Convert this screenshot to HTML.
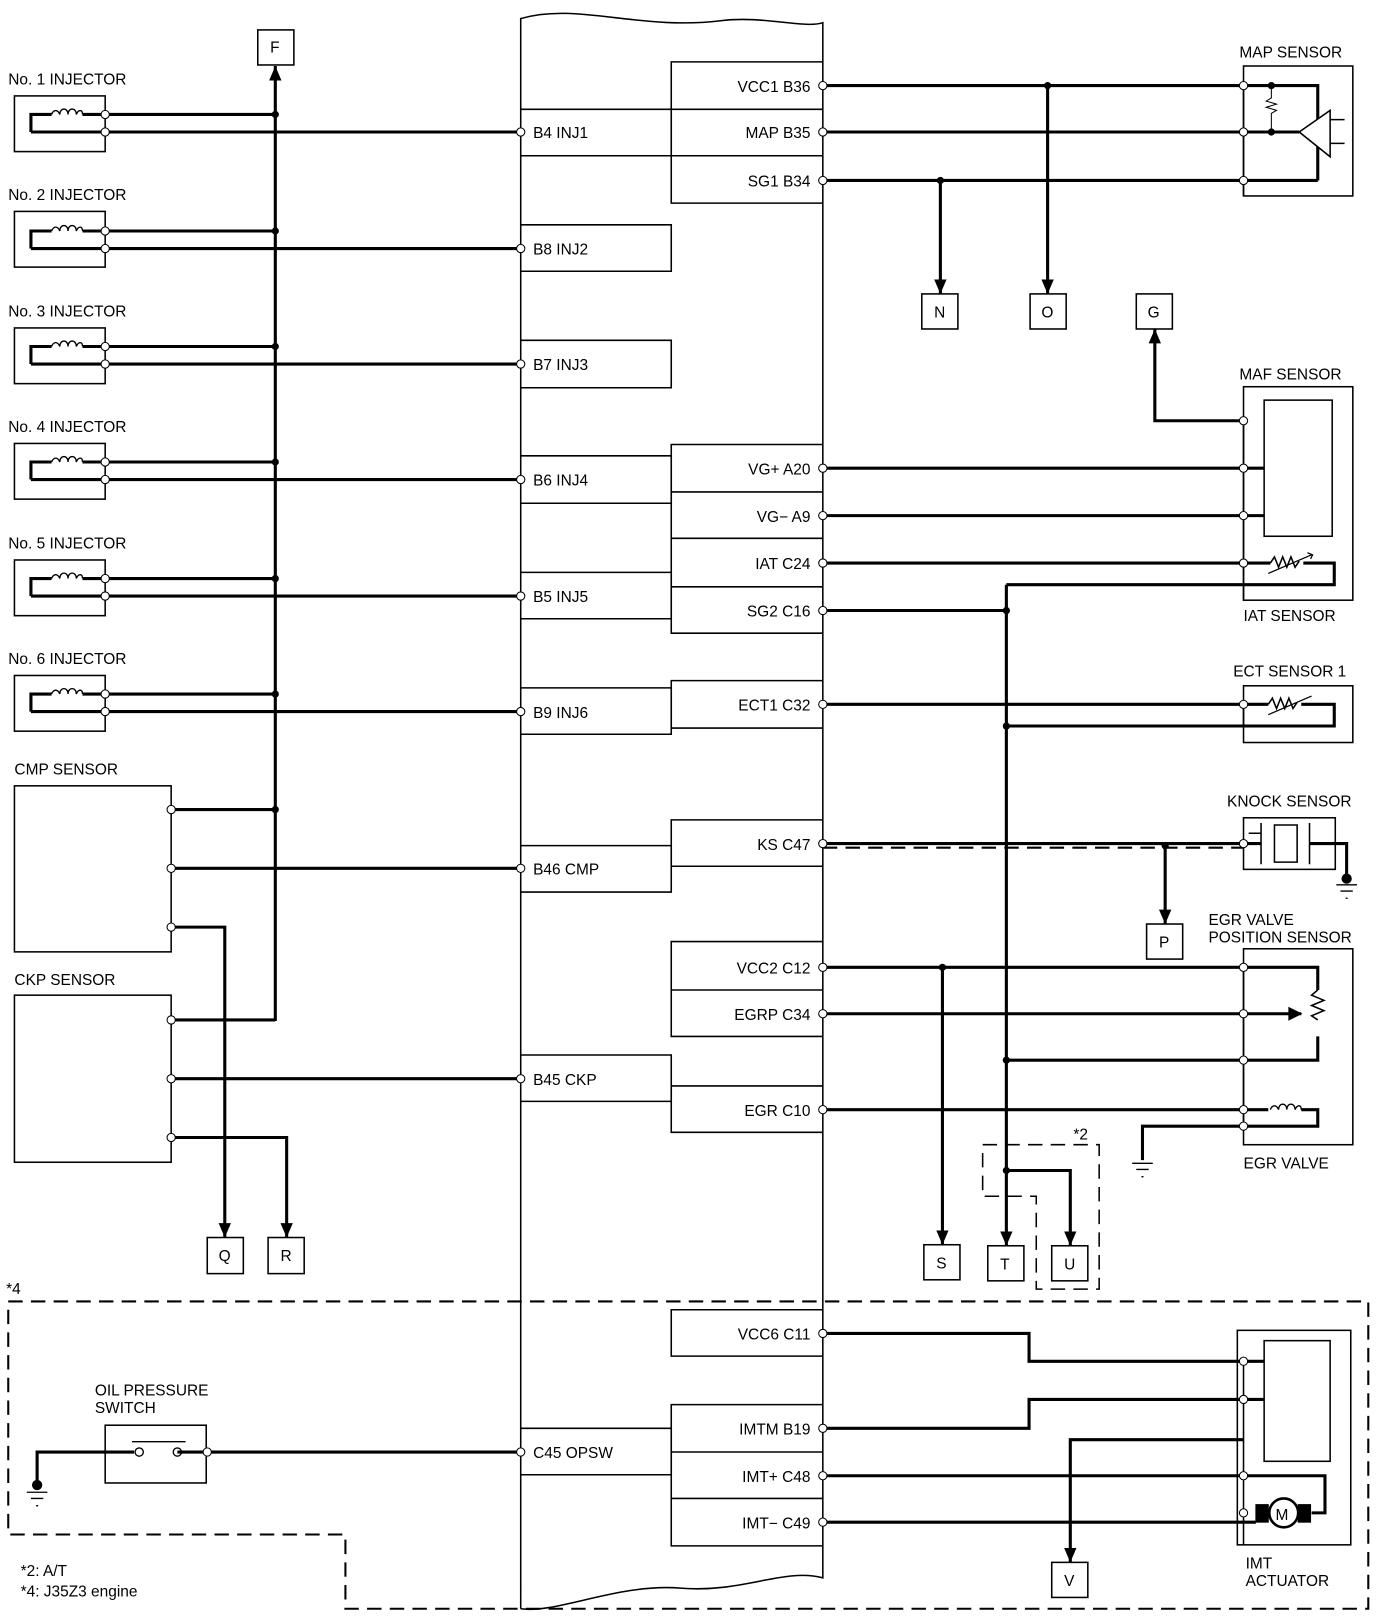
<!DOCTYPE html>
<html><head><meta charset="utf-8"><style>
html,body{margin:0;padding:0;background:#fff}
svg{display:block}
text{font-family:"Liberation Sans",Arial,sans-serif;font-size:15px;fill:#000}
</style></head><body>
<svg width="1392" height="1616" viewBox="0 0 1350 1567" preserveAspectRatio="none" xmlns="http://www.w3.org/2000/svg">
<defs>
<marker id="ar" markerWidth="14" markerHeight="12" refX="14" refY="6" orient="auto" markerUnits="userSpaceOnUse"><path d="M0,0 L14,6 L0,12 Z" fill="#000"/></marker>
</defs>
<g fill="none" stroke="#000" stroke-width="1.5">
<path d="M505,1560 L505,18 C560,2 620,30 700,20 C740,15 780,28 798,22 L798,1530 C760,1520 720,1545 660,1540 C600,1535 540,1565 505,1560"/>
<path d="M505,106H651V151H505 M505,218H651V263H505 M505,330H651V376H505 M505,442H651V488H505 M505,555H651V600H505 M505,667H651V712H505 M505,820H651V865H505 M505,1023H651V1068H505 M505,1385H651V1430H505"/>
<path d="M798,60H651V197H798 M651,106H798 M651,151H798
M798,431H651V614H798 M651,477H798 M651,522H798 M651,569H798
M798,660H651V706H798 M798,795H651V840H798 M798,913H651V1005H798 M651,960H798
M798,1053H651V1098H798 M798,1270H651V1315H798 M798,1362H651V1499H798 M651,1408H798 M651,1453H798"/>
<rect x="14" y="93" width="88" height="54"/><rect x="14" y="205" width="88" height="54"/><rect x="14" y="318" width="88" height="54"/>
<rect x="14" y="430" width="88" height="54"/><rect x="14" y="543" width="88" height="54"/><rect x="14" y="655" width="88" height="54"/>
<rect x="14" y="762" width="152" height="161"/><rect x="14" y="965" width="152" height="162"/>
<rect x="1206" y="64" width="106" height="126"/>
<rect x="1206" y="375" width="106" height="207"/><rect x="1226" y="388" width="66" height="132"/>
<rect x="1206" y="665" width="106" height="55"/>
<rect x="1206" y="793" width="89" height="50"/>
<rect x="1206" y="920" width="106" height="190"/>
<rect x="1200" y="1290" width="110" height="208"/><rect x="1226" y="1300" width="64" height="117"/>
<rect x="102" y="1382" width="98" height="56"/>
<rect x="250" y="29" width="35" height="34"/><rect x="894" y="285" width="35" height="34"/><rect x="999" y="285" width="35" height="34"/><rect x="1102" y="285" width="35" height="34"/>
<rect x="1112" y="896" width="35" height="34"/><rect x="201" y="1200" width="35" height="35"/><rect x="260" y="1200" width="35" height="35"/>
<rect x="896" y="1207" width="35" height="34"/><rect x="958" y="1208" width="35" height="34"/><rect x="1020" y="1208" width="35" height="34"/><rect x="1020" y="1515" width="35" height="34"/>
<path d="M1206,83V190 M1206,408V582 M1206,683V704 M1206,938V1095 M1206,1320V1476 M1206,1476V1498"/>
<path d="M1290,116H1304 M1290,139H1304"/>
<path d="M1211,808H1223 M1223,798V838 M1236,800H1258V836H1236Z M1270,798V838"/>
<path d="M1233,83V95 l-5,3 l10,3 l-10,3 l10,3 l-5,3 V128" stroke-width="1"/>
<path d="M1278,960 l-6,5 l12,5 l-12,5 l12,5 l-12,5 l6,4" stroke-width="1.5"/>
<path d="M1232,546 l4,-6 l4,10 l4,-10 l4,10 l4,-10 l4,10 l4,-6" stroke-width="1.5"/>
<path d="M1230,683 l4,-6 l4,10 l4,-10 l4,10 l4,-10 l4,10 l4,-6" stroke-width="1.5"/>
<path d="M1230,556L1272,538 M1230,693L1272,675 M1268,536l5,2l-2,4" stroke-width="1.2"/>
</g>
<g fill="none" stroke="#000" stroke-width="3">
<path d="M267,990V64" marker-end="url(#ar)"/>
<path d="M30,128V111H50 M80,111H267 M30,128H505
M30,241V224H50 M80,224H267 M30,241H505
M30,353V336H50 M80,336H267 M30,353H505
M30,465V448H50 M80,448H267 M30,465H505
M30,578V561H50 M80,561H267 M30,578H505
M30,690V673H50 M80,673H267 M30,690H505
M166,785H267 M166,842H505 M166,989H267 M166,1046H505"/>
<path d="M166,899H218V1200" marker-end="url(#ar)"/>
<path d="M166,1103H278V1200" marker-end="url(#ar)"/>
<path d="M798,83H1278V175 M798,128H1260 M798,175H1278"/>
<path d="M912,175V285" marker-end="url(#ar)"/>
<path d="M1016,83V285" marker-end="url(#ar)"/>
<path d="M1206,408H1120V319" marker-end="url(#ar)"/>
<path d="M798,454H1226 M798,500H1226 M798,546H1232 M1264,546H1294V567H976 M798,592H976"/>
<path d="M976,567V1208" marker-end="url(#ar)"/>
<path d="M798,683H1230 M1262,683H1294V704H976"/>
<path d="M798,818H1223 M1270,818H1306V852"/>
<path d="M1130,818V896" marker-end="url(#ar)"/>
<path d="M798,938H1278V960 M798,983H1262 M976,1028H1278V1005 M798,1076H1230 M1262,1076H1278V1092H1108V1125"/>
<path d="M914,938V1207" marker-end="url(#ar)"/>
<path d="M976,1135H1038V1208" marker-end="url(#ar)"/>
<path d="M798,1293H998V1320H1226 M798,1385H998V1357H1226 M798,1431H1285V1467H1272 M798,1476H1218"/>
<path d="M1206,1396H1038V1515" marker-end="url(#ar)"/>
<path d="M36,1440V1408H130 M172,1408H505"/>
</g>
<path d="M1260,128L1290,107V152Z" fill="#fff" stroke="#000" stroke-width="1.5"/>
<g fill="#000" stroke="#000">
<circle cx="1245" cy="1467" r="14" fill="#fff" stroke-width="2.5"/>
<rect x="1218" y="1459" width="12" height="17"/><rect x="1259" y="1459" width="12" height="17"/>
<path d="M1250,977 L1262,983 L1250,989Z"/>
</g>
<g fill="#000">
<circle cx="267" cy="111" r="3.5"/><circle cx="267" cy="224" r="3.5"/><circle cx="267" cy="336" r="3.5"/><circle cx="267" cy="448" r="3.5"/><circle cx="267" cy="561" r="3.5"/><circle cx="267" cy="673" r="3.5"/><circle cx="267" cy="785" r="3.5"/>
<circle cx="1016" cy="83" r="3.5"/><circle cx="912" cy="175" r="3.5"/><circle cx="1233" cy="83" r="3.5"/><circle cx="1233" cy="128" r="3.5"/>
<circle cx="976" cy="592" r="3.5"/><circle cx="976" cy="704" r="3.5"/><circle cx="1130" cy="820" r="3.5"/><circle cx="914" cy="938" r="3.5"/><circle cx="976" cy="1028" r="3.5"/><circle cx="976" cy="1135" r="3.5"/>
<circle cx="1306" cy="852" r="5"/><circle cx="36" cy="1440" r="5"/>
</g>
<g fill="none" stroke="#000" stroke-width="1.3">
<path d="M50,111 c2,-5 6,-5 8,0 c0,-7 8,-7 8,0 c0,-7 8,-7 8,0 c2,-5 6,-5 6,0"/>
<path d="M50,224 c2,-5 6,-5 8,0 c0,-7 8,-7 8,0 c0,-7 8,-7 8,0 c2,-5 6,-5 6,0"/>
<path d="M50,336 c2,-5 6,-5 8,0 c0,-7 8,-7 8,0 c0,-7 8,-7 8,0 c2,-5 6,-5 6,0"/>
<path d="M50,448 c2,-5 6,-5 8,0 c0,-7 8,-7 8,0 c0,-7 8,-7 8,0 c2,-5 6,-5 6,0"/>
<path d="M50,561 c2,-5 6,-5 8,0 c0,-7 8,-7 8,0 c0,-7 8,-7 8,0 c2,-5 6,-5 6,0"/>
<path d="M50,673 c2,-5 6,-5 8,0 c0,-7 8,-7 8,0 c0,-7 8,-7 8,0 c2,-5 6,-5 6,0"/>
<path d="M1232,1076 c2,-5 6,-5 8,0 c0,-7 8,-7 8,0 c0,-7 8,-7 8,0 c2,-5 6,-5 6,0"/>
<path d="M128,1398H180"/>
<circle cx="135" cy="1408" r="4"/><circle cx="172" cy="1408" r="4"/>
<path d="M1296,858H1316 M1300,864H1312 M1305,871H1307 M1098,1128H1118 M1102,1134H1114 M1107,1141H1109 M26,1447H46 M30,1453H42 M35,1460H37"/>
</g>
<g fill="none" stroke="#000" stroke-width="2" stroke-dasharray="14,8">
<path d="M798,822H1206"/>
<path d="M8,1262H1327V1560H335V1488H8Z"/>
<path d="M953,1110H1066V1250H1005V1160H953Z" stroke-width="1.5"/>
</g>
<g fill="#fff" stroke="#000" stroke-width="1">
<circle cx="102" cy="111" r="4"/><circle cx="102" cy="128" r="4"/><circle cx="102" cy="224" r="4"/><circle cx="102" cy="241" r="4"/>
<circle cx="102" cy="336" r="4"/><circle cx="102" cy="353" r="4"/><circle cx="102" cy="448" r="4"/><circle cx="102" cy="465" r="4"/>
<circle cx="102" cy="561" r="4"/><circle cx="102" cy="578" r="4"/><circle cx="102" cy="673" r="4"/><circle cx="102" cy="690" r="4"/>
<circle cx="166" cy="785" r="4"/><circle cx="166" cy="842" r="4"/><circle cx="166" cy="899" r="4"/>
<circle cx="166" cy="989" r="4"/><circle cx="166" cy="1046" r="4"/><circle cx="166" cy="1103" r="4"/>
<circle cx="505" cy="128" r="4"/><circle cx="505" cy="241" r="4"/><circle cx="505" cy="353" r="4"/><circle cx="505" cy="465" r="4"/><circle cx="505" cy="578" r="4"/><circle cx="505" cy="690" r="4"/><circle cx="505" cy="842" r="4"/><circle cx="505" cy="1046" r="4"/><circle cx="505" cy="1408" r="4"/>
<circle cx="798" cy="83" r="4"/><circle cx="798" cy="128" r="4"/><circle cx="798" cy="175" r="4"/>
<circle cx="798" cy="454" r="4"/><circle cx="798" cy="500" r="4"/><circle cx="798" cy="546" r="4"/><circle cx="798" cy="592" r="4"/>
<circle cx="798" cy="683" r="4"/><circle cx="798" cy="818" r="4"/><circle cx="798" cy="938" r="4"/><circle cx="798" cy="983" r="4"/><circle cx="798" cy="1076" r="4"/>
<circle cx="798" cy="1293" r="4"/><circle cx="798" cy="1385" r="4"/><circle cx="798" cy="1431" r="4"/><circle cx="798" cy="1476" r="4"/>
<circle cx="1206" cy="83" r="4"/><circle cx="1206" cy="128" r="4"/><circle cx="1206" cy="175" r="4"/>
<circle cx="1206" cy="408" r="4"/><circle cx="1206" cy="454" r="4"/><circle cx="1206" cy="500" r="4"/><circle cx="1206" cy="546" r="4"/>
<circle cx="1206" cy="683" r="4"/><circle cx="1206" cy="818" r="4"/>
<circle cx="1206" cy="938" r="4"/><circle cx="1206" cy="983" r="4"/><circle cx="1206" cy="1028" r="4"/><circle cx="1206" cy="1076" r="4"/><circle cx="1206" cy="1092" r="4"/>
<circle cx="1206" cy="1320" r="4"/><circle cx="1206" cy="1357" r="4"/><circle cx="1206" cy="1431" r="4"/><circle cx="1206" cy="1467" r="4"/>
<circle cx="201" cy="1408" r="4"/>
</g>
<g>
<text x="8" y="82">No. 1 INJECTOR</text><text x="8" y="194">No. 2 INJECTOR</text><text x="8" y="307">No. 3 INJECTOR</text>
<text x="8" y="419">No. 4 INJECTOR</text><text x="8" y="532">No. 5 INJECTOR</text><text x="8" y="644">No. 6 INJECTOR</text>
<text x="14" y="751">CMP SENSOR</text><text x="14" y="955">CKP SENSOR</text>
<text x="262" y="51">F</text><text x="906" y="308">N</text><text x="1010" y="308">O</text><text x="1113" y="308">G</text>
<text x="1124" y="919">P</text><text x="212" y="1223">Q</text><text x="272" y="1223">R</text>
<text x="908" y="1230">S</text><text x="970" y="1231">T</text><text x="1032" y="1231">U</text><text x="1032" y="1538">V</text>
<text x="517" y="134">B4 INJ1</text><text x="517" y="247">B8 INJ2</text><text x="517" y="359">B7 INJ3</text><text x="517" y="471">B6 INJ4</text>
<text x="517" y="584">B5 INJ5</text><text x="517" y="696">B9 INJ6</text><text x="517" y="848">B46 CMP</text><text x="517" y="1052">B45 CKP</text><text x="517" y="1414">C45 OPSW</text>
</g>
<g text-anchor="end">
<text x="786" y="89">VCC1 B36</text><text x="786" y="134">MAP B35</text><text x="786" y="181">SG1 B34</text>
<text x="786" y="460">VG+ A20</text><text x="786" y="506">VG− A9</text><text x="786" y="552">IAT C24</text><text x="786" y="598">SG2 C16</text>
<text x="786" y="689">ECT1 C32</text><text x="786" y="824">KS C47</text><text x="786" y="944">VCC2 C12</text><text x="786" y="989">EGRP C34</text><text x="786" y="1082">EGR C10</text>
<text x="786" y="1299">VCC6 C11</text><text x="786" y="1391">IMTM B19</text><text x="786" y="1437">IMT+ C48</text><text x="786" y="1482">IMT− C49</text>
</g>
<g>
<text x="1202" y="56">MAP SENSOR</text><text x="1202" y="368">MAF SENSOR</text><text x="1206" y="602">IAT SENSOR</text>
<text x="1196" y="656">ECT SENSOR 1</text><text x="1190" y="782">KNOCK SENSOR</text>
<text x="1172" y="897">EGR VALVE</text><text x="1172" y="914">POSITION SENSOR</text><text x="1206" y="1133">EGR VALVE</text>
<text x="1208" y="1521">IMT</text><text x="1208" y="1538">ACTUATOR</text>
<text x="92" y="1353">OIL PRESSURE</text><text x="92" y="1370">SWITCH</text>
<text x="1041" y="1105">*2</text><text x="6" y="1255">*4</text>
<text x="20" y="1528">*2:  A/T</text><text x="20" y="1548">*4:  J35Z3 engine</text>
<text x="1237" y="1474" font-size="20">M</text>
</g>
</svg>
</body></html>
